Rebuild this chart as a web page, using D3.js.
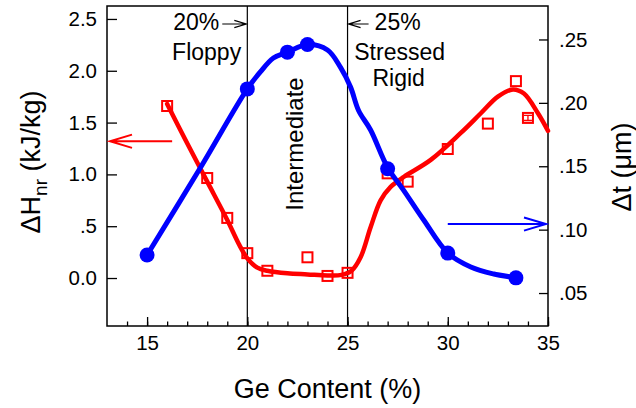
<!DOCTYPE html>
<html>
<head>
<meta charset="utf-8">
<script src="https://cdn.jsdelivr.net/npm/d3@7/dist/d3.min.js"></script>
<style>
  html, body { margin: 0; padding: 0; background: #fff; }
  svg { display: block; font-family: "Liberation Sans", Arial, Helvetica, sans-serif; }
</style>
</head>
<body>
<svg id="chart" width="636" height="408"></svg>
<script>
// Ge content (%) of the measured samples
const heatGe    = [16, 18, 19, 20, 21, 23, 24, 25, 27, 28, 30, 32, 33.4, 34];
// Non-reversing enthalpy ΔHnr (kJ/kg), left axis
const heatVals  = [1.66, 0.965, 0.58, 0.24, 0.07, 0.20, 0.02, 0.05, 1.01, 0.93, 1.245, 1.49, 1.90, 1.545];
// Error half-widths (kJ/kg); only the 34% sample carries a visible bar
const heatErr   = [0, 0, 0, 0, 0, 0, 0, 0, 0, 0, 0, 0, 0, 0.025];

// Smooth guide through the enthalpy data
const heatFitGe  = [16, 17, 18, 19, 19.6, 20, 20.5, 21, 22, 23, 24, 24.7, 25.2, 25.65, 26.15, 26.65, 27.15, 27.8, 29.15, 30.65, 31.65, 32.5, 33.25, 33.8, 34.5, 35];
const heatFitVal = [1.68, 1.30, 0.93, 0.56, 0.32, 0.19, 0.10, 0.07, 0.045, 0.035, 0.025, 0.03, 0.07, 0.20, 0.49, 0.75, 0.88, 0.975, 1.14, 1.40, 1.59, 1.75, 1.82, 1.78, 1.59, 1.42];

// Thickness change Δt (µm), right axis
const thickGe   = [15, 20, 22, 23, 27, 30, 33.4];
const thickVals = [0.080, 0.211, 0.240, 0.246, 0.148, 0.0815, 0.062];

// Smooth guide through the thickness data
const thickFitGe  = [15, 17.65, 20, 20.65, 21.3, 22, 23, 24, 24.65, 25.15, 25.55, 26.15, 27, 27.8, 28.8, 30, 31.15, 32.3, 33.4];
const thickFitVal = [0.080, 0.1486, 0.211, 0.2244, 0.2354, 0.240, 0.246, 0.2417, 0.228, 0.2125, 0.194, 0.1786, 0.149, 0.131, 0.1076, 0.0816, 0.0705, 0.065, 0.062];

// Axis ticks and labels
const xTicks       = [15, 20, 25, 30, 35];
const xMinorTicks  = [14, 15, 16, 17, 18, 19, 20, 21, 22, 23, 24, 25, 26, 27, 28, 29, 30, 31, 32, 33, 34, 35];
const leftTicks    = [0, 0.5, 1.0, 1.5, 2.0, 2.5];
const leftLabels   = ["0.0", ".5", "1.0", "1.5", "2.0", "2.5"];
const rightTicks   = [0.05, 0.10, 0.15, 0.20, 0.25];
const rightLabels  = [".05", ".10", ".15", ".20", ".25"];

// Phase boundaries (Ge %)
const boundaries = [20, 25];

const W = 636, H = 408;
const m = { left: 107, top: 6, right: 88, bottom: 82 };
const iw = W - m.left - m.right;   // 441
const ih = H - m.top - m.bottom;   // 320

const svg = d3.select("#chart");
const g = svg.append("g").attr("transform", `translate(${m.left},${m.top})`);

const x  = d3.scaleLinear().domain([13, 35]).range([0, iw]);
const yL = d3.scaleLinear().domain([-0.463, 2.625]).range([ih, 0]);
const yR = d3.scaleLinear().domain([0.024, 0.2764]).range([ih, 0]);

const RED = "#ff0000", BLUE = "#0000ff";
const tickFont = 20.5;

// ---- axes ----
const styleAxis = sel => {
  sel.select(".domain").remove();
  sel.selectAll(".tick line").attr("stroke", "#000").attr("stroke-width", 1.3);
  sel.selectAll(".tick text").attr("fill", "#000").attr("font-size", tickFont)
     .attr("font-family", "'Liberation Sans', Arial, sans-serif");
};

g.append("g").attr("transform", `translate(0,${ih})`)
  .call(d3.axisBottom(x).tickValues(xMinorTicks).tickSize(-4.5).tickFormat(""))
  .call(styleAxis);
g.append("g").attr("transform", `translate(0,${ih})`)
  .call(d3.axisBottom(x).tickValues(xTicks).tickSize(-9).tickPadding(26).tickFormat(d3.format("d")))
  .call(styleAxis)
  .call(s => s.selectAll(".tick text").attr("dy", "-0.1em"));

g.append("g")
  .call(d3.axisLeft(yL).tickValues(leftTicks).tickSize(-10).tickPadding(10)
        .tickFormat((d, i) => leftLabels[i]))
  .call(styleAxis);

g.append("g").attr("transform", `translate(${iw},0)`)
  .call(d3.axisRight(yR).tickValues(rightTicks).tickSize(-9).tickPadding(11)
        .tickFormat((d, i) => rightLabels[i]))
  .call(styleAxis);

// plot frame
g.append("rect").attr("width", iw).attr("height", ih)
  .attr("fill", "none").attr("stroke", "#000").attr("stroke-width", 1.5);

// phase boundary lines
g.selectAll("line.boundary").data(boundaries).join("line")
  .attr("class", "boundary")
  .attr("x1", d => x(d)).attr("x2", d => x(d))
  .attr("y1", 0).attr("y2", ih)
  .attr("stroke", "#000").attr("stroke-width", 1.2);

// ---- curves ----
const heatFit = heatFitGe.map((d, i) => [d, heatFitVal[i]]);
const thickFit = thickFitGe.map((d, i) => [d, thickFitVal[i]]);

g.append("path").datum(heatFit)
  .attr("fill", "none").attr("stroke", RED).attr("stroke-width", 4.5)
  .attr("stroke-linejoin", "round").attr("stroke-linecap", "round")
  .attr("d", d3.line().x(d => x(d[0])).y(d => yL(d[1])).curve(d3.curveCatmullRom.alpha(0.5)));

// enthalpy markers: open squares
const heat = heatGe.map((d, i) => ({ ge: d, v: heatVals[i], e: heatErr[i] }));
g.selectAll("rect.heat").data(heat).join("rect")
  .attr("class", "heat")
  .attr("x", d => x(d.ge) - 5).attr("y", d => yL(d.v) - 5)
  .attr("width", 10).attr("height", 10)
  .attr("fill", "none").attr("stroke", RED).attr("stroke-width", 2);

// error bars
const errs = heat.filter(d => d.e > 0);
g.selectAll("path.err").data(errs).join("path")
  .attr("class", "err")
  .attr("fill", "none").attr("stroke", RED).attr("stroke-width", 1.3)
  .attr("d", d => {
    const cx = x(d.ge), y0 = yL(d.v - d.e), y1 = yL(d.v + d.e);
    return `M${cx - 4},${y0}H${cx + 4}M${cx - 4},${y1}H${cx + 4}M${cx},${y0}V${y1}`;
  });

g.append("path").datum(thickFit)
  .attr("fill", "none").attr("stroke", BLUE).attr("stroke-width", 5)
  .attr("stroke-linejoin", "round").attr("stroke-linecap", "round")
  .attr("d", d3.line().x(d => x(d[0])).y(d => yR(d[1])).curve(d3.curveCatmullRom.alpha(0.5)));

// thickness markers: filled circles
g.selectAll("circle.thick").data(thickGe.map((d, i) => [d, thickVals[i]])).join("circle")
  .attr("class", "thick")
  .attr("cx", d => x(d[0])).attr("cy", d => yR(d[1])).attr("r", 7.5)
  .attr("fill", BLUE);

// ---- axis-pointing arrows ----
function arrow(x1, x2, y, color, head, width) {
  const dir = Math.sign(x2 - x1);
  g.append("path")
    .attr("fill", "none").attr("stroke", color).attr("stroke-width", width)
    .attr("stroke-linejoin", "miter")
    .attr("d", `M${x1},${y}H${x2}M${x2 - dir * head},${y - head * 0.3}L${x2},${y}L${x2 - dir * head},${y + head * 0.3}`);
}
arrow(x(16.25), x(13.15), yL(1.32), RED, 22, 2);
arrow(x(30), x(34.9), yR(0.1044), BLUE, 22, 2);

// phase boundary markers at the top
arrow(x(18.75), x(19.95), 18, "#000", 12, 1.2);
arrow(x(26.05), x(25.05), 18, "#000", 12, 1.2);

// ---- annotations ----
const ann = g.append("g").attr("font-size", 23).attr("fill", "#000");
ann.append("text").attr("x", x(18.6)).attr("y", 24).attr("text-anchor", "end").text("20%");
ann.append("text").attr("x", x(17.97)).attr("y", 54).attr("text-anchor", "middle").text("Floppy");
ann.append("text").attr("x", x(26.35)).attr("y", 24).attr("text-anchor", "start").text("25%");
ann.append("text").attr("x", x(27.6)).attr("y", 54).attr("text-anchor", "middle").text("Stressed");
ann.append("text").attr("x", x(27.55)).attr("y", 80).attr("text-anchor", "middle").text("Rigid");
ann.append("text").attr("transform", `translate(${x(22.78)},${138}) rotate(-90)`)
  .attr("text-anchor", "middle").attr("font-size", 24).text("Intermediate");

// ---- axis titles ----
svg.append("text").attr("x", m.left + iw / 2).attr("y", 398)
  .attr("text-anchor", "middle").attr("font-size", 27).text("Ge Content (%)");

const lt = svg.append("text").attr("transform", "translate(40,162) rotate(-90)")
  .attr("text-anchor", "middle").attr("font-size", 27);
lt.append("tspan").text("ΔH");
lt.append("tspan").attr("font-size", 19).attr("dy", 7).text("nr");
lt.append("tspan").attr("dy", -7).text(" (kJ/kg)");

svg.append("text").attr("transform", "translate(631,167) rotate(-90)")
  .attr("text-anchor", "middle").attr("font-size", 27).text("Δt (μm)");
</script>
</body>
</html>
